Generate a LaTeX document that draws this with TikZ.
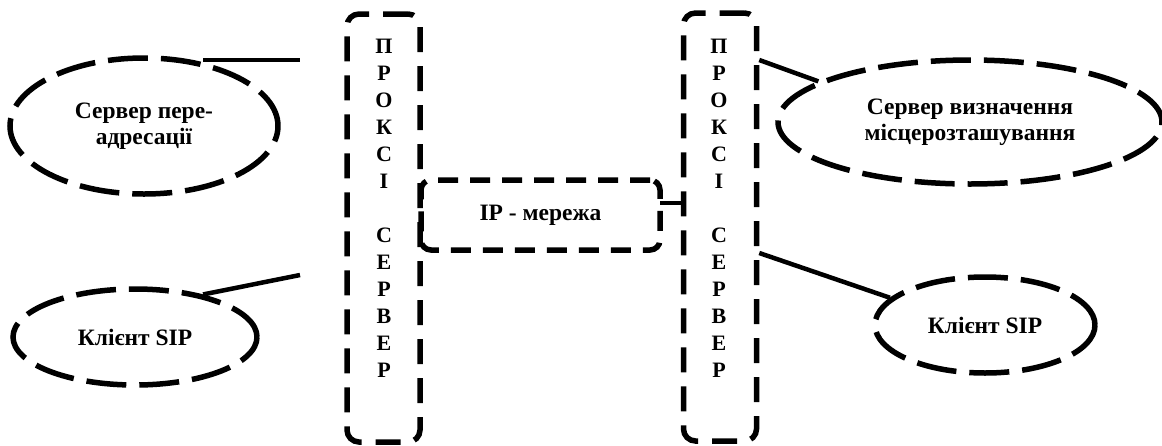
\documentclass[tikz,border=0pt]{standalone}
\usepackage{fontspec}
\setmainfont{Liberation Serif}[BoldFont={Liberation Serif Bold}]
\usetikzlibrary{shapes.geometric}
\begin{document}
\begin{tikzpicture}[x=1pt,y=-1pt,
  proxy/.style={draw, line width=5.5pt, dash pattern=on 25pt off 14pt, rounded corners=12pt,
    minimum width=73pt, minimum height=428pt, inner sep=0pt},
  oval/.style={draw, ellipse, line width=5.5pt, dash pattern=on 40pt off 13pt, inner sep=0pt,
    align=center, font=\bfseries\fontsize{23.5}{26}\selectfont},
  netbox/.style={draw, line width=5.5pt, dash pattern=on 20pt off 12pt, rounded corners=10pt,
    minimum width=239pt, minimum height=70pt, inner sep=0pt, font=\bfseries\fontsize{23.5}{26}\selectfont},
  letters/.style={align=center, inner sep=0pt, font=\bfseries\fontsize{22}{27}\selectfont},
  link/.style={line width=4.5pt}
]
\path[use as bounding box] (0,0) rectangle (1162,445);

% proxy servers
\node[proxy] (pL) at (383.5,228) {};
\node[proxy] (pR) at (720,227) {};
\node[letters] (pLt) at (384,208.5) {П\\Р\\О\\К\\С\\І\\~\\С\\Е\\Р\\В\\Е\\Р};
\node[letters] (pRt) at (719,208.5) {П\\Р\\О\\К\\С\\І\\~\\С\\Е\\Р\\В\\Е\\Р};

% IP network
\node[netbox] (ip) at (540.5,215) {IP - мережа};

% ellipses
\node[oval, minimum width=268pt, minimum height=136pt] (e1) at (144,126) {Сервер пере-\\адресації};
\node[oval, minimum width=244pt, minimum height=96pt] (e2) at (135,337) {Клієнт SIP};
\node[oval, minimum width=384pt, minimum height=124pt] (e3) at (970,122) {Сервер визначення\\місцерозташування};
\node[oval, minimum width=220pt, minimum height=96pt] (e4) at (985,325) {Клієнт SIP};

% connectors
\coordinate (c1s) at (203,60);
\coordinate (c1e) at (300,60);
\coordinate (c2e) at (300,275);
\coordinate (ipc) at (660,203);
\draw[link] (c1s) -- (c1e);
\draw[link] (e2.32) -- (c2e);
\draw[link] (pR.east |- 0,60) -- (e3.165);
\draw[link] (pR.east |- 0,253) -- (e4.164);
\draw[link] (ipc) -- (pR.west |- ipc);
\end{tikzpicture}
\end{document}
